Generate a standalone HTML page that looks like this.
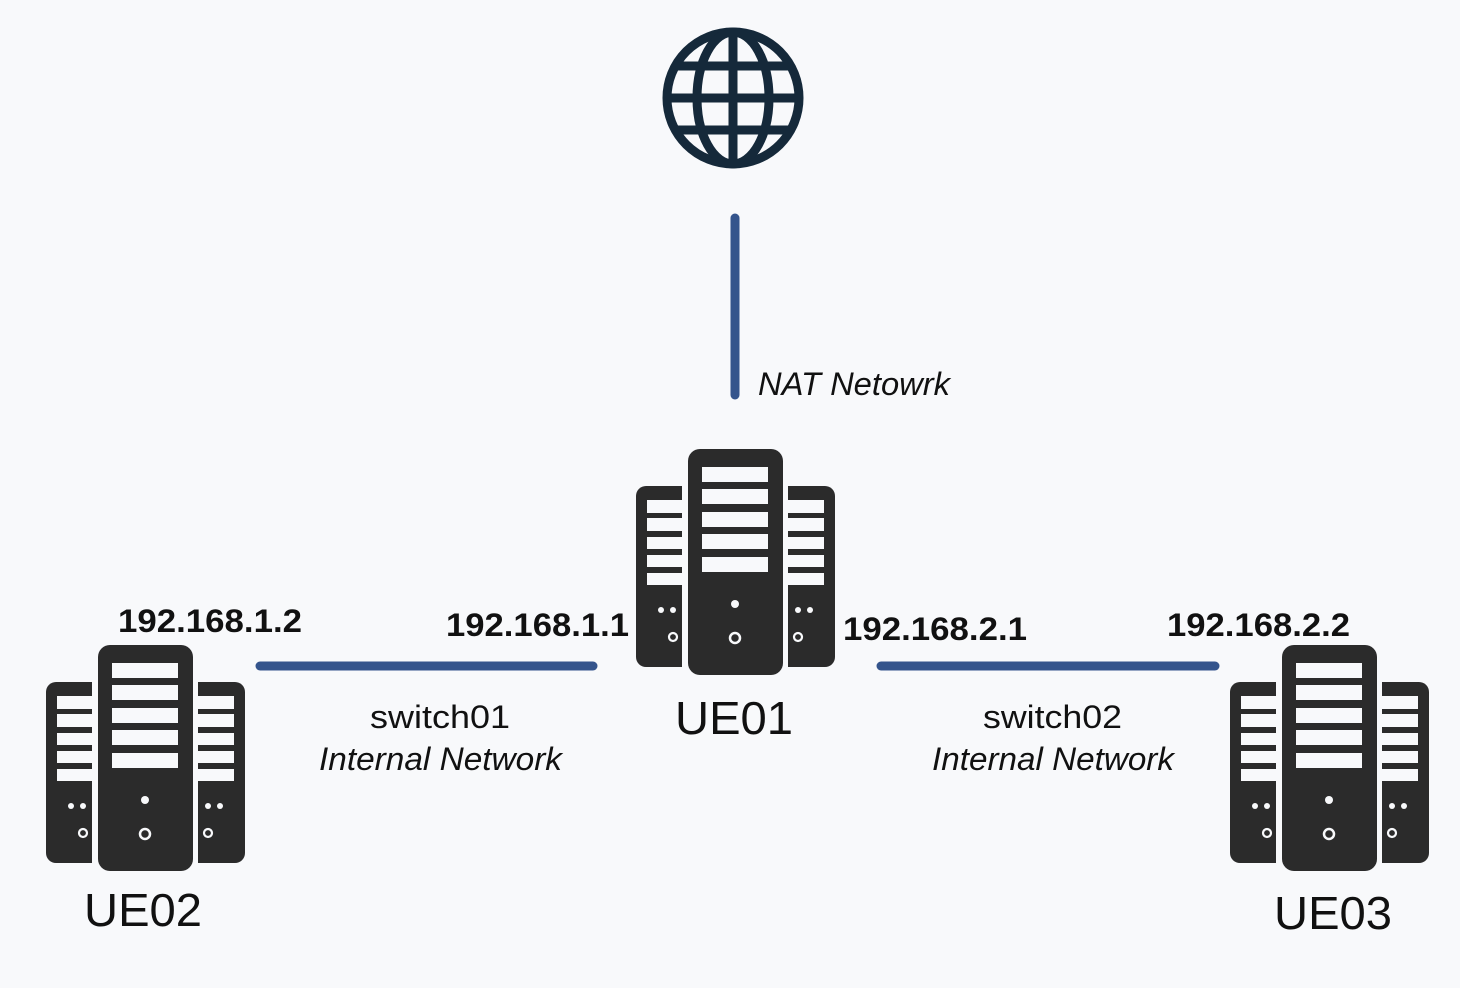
<!DOCTYPE html>
<html><head><meta charset="utf-8"><style>
html,body{margin:0;padding:0;background:#f8f9fb;}
svg{display:block;}
text{font-family:"Liberation Sans",sans-serif;fill:#111;}
</style></head><body>
<svg width="1460" height="988" viewBox="0 0 1460 988" xmlns="http://www.w3.org/2000/svg">
<rect width="1460" height="988" fill="#f8f9fb"/>
<defs>
<g id="srv">
  <rect x="688" y="449" width="95" height="226" rx="12" fill="#2b2b2b"/>
  <rect x="702" y="467" width="66" height="15" fill="#f8f9fb"/>
  <rect x="702" y="489" width="66" height="15" fill="#f8f9fb"/>
  <rect x="702" y="512" width="66" height="15" fill="#f8f9fb"/>
  <rect x="702" y="534" width="66" height="15" fill="#f8f9fb"/>
  <rect x="702" y="557" width="66" height="15" fill="#f8f9fb"/>
  <circle cx="735" cy="604" r="4" fill="#f8f9fb"/>
  <circle cx="735" cy="638" r="5" fill="none" stroke="#f8f9fb" stroke-width="2.5"/>
  <path d="M682 486 H646 a10 10 0 0 0 -10 10 V657 a10 10 0 0 0 10 10 H682 Z" fill="#2b2b2b"/>
  <rect x="647" y="500" width="35" height="13" fill="#f8f9fb"/>
  <rect x="647" y="518" width="35" height="13" fill="#f8f9fb"/>
  <rect x="647" y="537" width="35" height="12" fill="#f8f9fb"/>
  <rect x="647" y="555" width="35" height="12" fill="#f8f9fb"/>
  <rect x="647" y="573" width="35" height="12" fill="#f8f9fb"/>
  <circle cx="661" cy="610" r="3" fill="#f8f9fb"/>
  <circle cx="673" cy="610" r="3" fill="#f8f9fb"/>
  <circle cx="673" cy="637" r="4" fill="none" stroke="#f8f9fb" stroke-width="2.2"/>
  <path d="M788 486 H825 a10 10 0 0 1 10 10 V657 a10 10 0 0 1 -10 10 H788 Z" fill="#2b2b2b"/>
  <rect x="788" y="500" width="36" height="13" fill="#f8f9fb"/>
  <rect x="788" y="518" width="36" height="13" fill="#f8f9fb"/>
  <rect x="788" y="537" width="36" height="12" fill="#f8f9fb"/>
  <rect x="788" y="555" width="36" height="12" fill="#f8f9fb"/>
  <rect x="788" y="573" width="36" height="12" fill="#f8f9fb"/>
  <circle cx="798" cy="610" r="3" fill="#f8f9fb"/>
  <circle cx="810" cy="610" r="3" fill="#f8f9fb"/>
  <circle cx="798" cy="637" r="4" fill="none" stroke="#f8f9fb" stroke-width="2.2"/>
</g>
</defs>
<!-- globe -->
<g fill="none" stroke="#15293a" stroke-width="9">
  <circle cx="733" cy="98" r="66"/>
  <ellipse cx="733" cy="98" rx="36" ry="66"/>
  <line x1="733" y1="32" x2="733" y2="164"/>
  <line x1="667" y1="98" x2="799" y2="98"/>
  <line x1="675" y1="66" x2="791" y2="66"/>
  <line x1="675" y1="130" x2="791" y2="130"/>
</g>
<!-- lines -->
<g stroke="#34548c" stroke-width="9" stroke-linecap="round">
  <line x1="735" y1="218" x2="735" y2="395"/>
  <line x1="260" y1="666" x2="593" y2="666"/>
  <line x1="881" y1="666" x2="1215" y2="666"/>
</g>
<use href="#srv"/>
<use href="#srv" transform="translate(-590,196)"/>
<use href="#srv" transform="translate(594,196)"/>
<text x="758" y="395" font-size="32" font-style="italic" textLength="192" lengthAdjust="spacingAndGlyphs">NAT Netowrk</text>
<g font-size="32" font-weight="bold">
<text x="118" y="632" textLength="184" lengthAdjust="spacingAndGlyphs">192.168.1.2</text>
<text x="446" y="636" textLength="183" lengthAdjust="spacingAndGlyphs">192.168.1.1</text>
<text x="843" y="640" textLength="184" lengthAdjust="spacingAndGlyphs">192.168.2.1</text>
<text x="1167" y="636" textLength="183" lengthAdjust="spacingAndGlyphs">192.168.2.2</text>
</g>
<g font-size="32">
<text x="370" y="728" textLength="140" lengthAdjust="spacingAndGlyphs">switch01</text>
<text x="319" y="770" font-style="italic" textLength="243" lengthAdjust="spacingAndGlyphs">Internal Network</text>
<text x="983" y="728" textLength="139" lengthAdjust="spacingAndGlyphs">switch02</text>
<text x="932" y="770" font-style="italic" textLength="242" lengthAdjust="spacingAndGlyphs">Internal Network</text>
</g>
<g font-size="46">
<text x="675" y="734" textLength="118" lengthAdjust="spacingAndGlyphs">UE01</text>
<text x="84" y="926" textLength="118" lengthAdjust="spacingAndGlyphs">UE02</text>
<text x="1274" y="929" textLength="118" lengthAdjust="spacingAndGlyphs">UE03</text>
</g>
</svg>
</body></html>
